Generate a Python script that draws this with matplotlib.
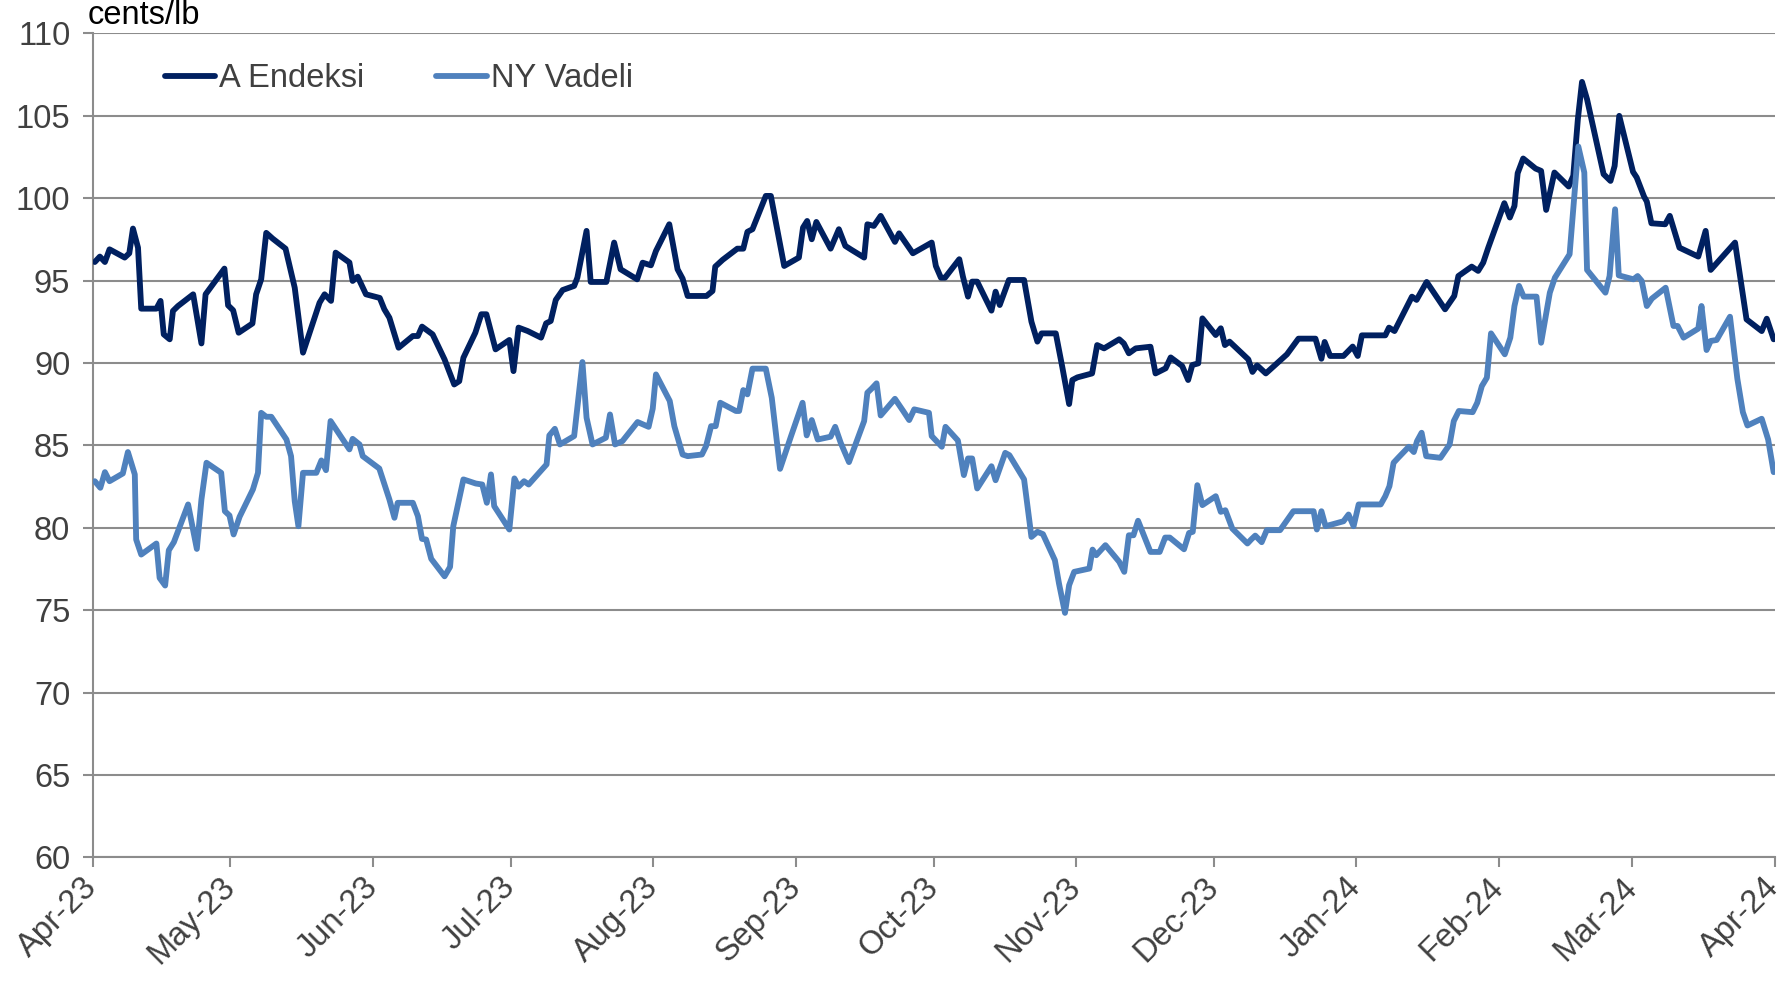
import numpy as np
import pandas as pd
import matplotlib
matplotlib.use("Agg")
import matplotlib.pyplot as plt
import matplotlib.dates as mdates

plt.rcParams['font.family'] = ['Liberation Sans', 'DejaVu Sans']

# gun: 2023-04-01'den itibaren gecen gun sayisi
baslangic = pd.Timestamp('2023-04-01')

a_gun = [0.5, 1.6, 2.7, 3.7, 7.0, 8.0, 8.8, 9.9, 10.6, 13.9, 14.8, 15.5, 16.8, 17.5, 18.6,
         21.9, 23.7, 24.6, 28.7, 29.5, 30.6, 31.8, 34.8, 35.6, 36.7, 37.8, 39.2, 42.0, 44.0,
         45.8, 49.4, 50.5, 51.9, 52.9, 55.9, 56.6, 57.7, 59.5, 62.5, 63.5, 64.6, 66.6, 69.7,
         70.8, 71.7, 74.0, 76.6, 78.7, 79.8, 80.7, 83.3, 84.6, 85.7, 87.7, 90.7, 91.6, 92.7,
         94.7, 97.6, 98.7, 99.7, 100.8, 102.3, 104.8, 105.5, 107.5, 108.4, 111.8, 113.5,
         114.9, 118.5, 119.7, 121.5, 122.6, 125.5, 127.3, 128.4, 129.5, 133.6, 134.9, 135.5,
         137.1, 140.3, 141.6, 142.5, 143.6, 146.5, 147.6, 150.5, 153.7, 154.6, 155.5, 156.5,
         157.5, 160.6, 162.4, 163.8, 165.2, 167.9, 168.6, 170.0, 171.5, 174.6, 175.5, 178.5,
         182.6, 183.5, 184.6, 185.5, 188.6, 189.4, 190.5, 191.4, 192.5, 195.6, 196.5, 197.4,
         199.4, 202.7, 204.3, 205.6, 206.5, 209.6, 211.0, 212.5, 213.2, 214.3, 217.5, 218.6,
         220.1, 223.4, 224.4, 225.5, 227.0, 230.2, 231.3, 233.5, 234.6, 237.1, 238.4, 239.3,
         240.6, 241.5, 244.4, 245.5, 246.4, 247.4, 251.5, 252.4, 253.4, 255.3, 259.9, 262.4,
         266.1, 267.4, 268.1, 269.3, 272.2, 274.2, 275.3, 276.2, 281.3, 282.1, 283.3, 287.1,
         288.1, 290.3, 294.3, 296.3, 297.2, 300.1, 301.5, 302.6, 303.7, 307.2, 308.4, 309.4,
         310.1, 311.3, 314.0, 315.2, 316.3, 318.1, 321.2, 322.2, 323.2, 324.1, 325.2, 328.8,
         330.3, 331.2, 332.2, 335.2, 336.0, 337.6, 338.2, 339.2, 342.2, 343.2, 345.3, 349.4,
         351.0, 352.1, 357.4, 359.9, 363.2, 364.3, 365.8]
a_endeksi = [96.13, 96.46, 96.13, 96.9, 96.4, 96.66, 98.16, 97.0, 93.3, 93.3, 93.77, 91.74,
             91.44, 93.16, 93.46, 94.17, 91.19, 94.17, 95.73, 93.5, 93.2, 91.84, 92.4, 94.17,
             95.08, 97.9, 97.55, 96.94, 94.57, 90.63, 93.66, 94.17, 93.77, 96.7, 96.1, 94.98,
             95.24, 94.17, 93.95, 93.26, 92.75, 90.93, 91.64, 91.64, 92.21, 91.74, 90.22, 88.7,
             88.9, 90.32, 91.84, 92.96, 92.96, 90.83, 91.4, 89.51, 92.15, 91.94, 91.54, 92.41,
             92.55, 93.83, 94.43, 94.68, 95.18, 98.02, 94.92, 94.92, 97.31, 95.69, 95.08, 96.09,
             95.93, 96.8, 98.42, 95.69, 95.12, 94.07, 94.07, 94.37, 95.85, 96.26, 96.94, 96.94,
             97.96, 98.12, 100.14, 100.14, 95.89, 96.4, 98.22, 98.62, 97.51, 98.56, 96.94, 98.12,
             97.11, 96.86, 96.4, 98.42, 98.32, 98.93, 97.35, 97.87, 96.66, 97.31, 95.89, 95.18,
             95.18, 96.3, 95.24, 94.03, 94.94, 94.94, 93.18, 94.33, 93.52, 95.04, 95.04, 92.51,
             91.3, 91.8, 91.8, 89.78, 87.51, 88.97, 89.13, 89.37, 91.09, 90.89, 91.44, 91.19,
             90.59, 90.89, 90.99, 89.37, 89.68, 90.34, 89.82, 88.97, 89.88, 89.98, 92.71, 91.7,
             92.11, 91.09, 91.3, 90.22, 89.46, 89.86, 89.37, 90.53, 91.48, 91.48, 90.26, 91.28,
             90.43, 90.43, 91.0, 90.43, 91.68, 91.68, 92.15, 91.94, 94.03, 93.83, 94.92, 93.26,
             94.07, 95.28, 95.85, 95.59, 96.09, 97.0, 99.7, 98.83, 99.53, 101.52, 102.41, 101.8,
             101.66, 99.29, 101.56, 100.71, 101.36, 104.8, 107.06, 106.0, 101.46, 101.05, 101.96,
             105.0, 101.6, 101.26, 100.1, 99.8, 98.48, 98.42, 98.93, 97.0, 96.46, 98.02, 95.65,
             97.31, 92.65, 91.94, 92.69, 91.44]

ny_gun = [0.5, 1.7, 2.7, 3.7, 6.6, 7.7, 9.2, 9.5, 10.6, 13.9, 14.6, 15.8, 16.6, 17.7, 20.8,
          22.7, 23.7, 24.8, 28.0, 28.8, 29.8, 30.7, 32.0, 34.9, 36.0, 36.7, 37.8, 38.9, 42.2,
          43.2, 44.0, 44.8, 45.8, 48.7, 49.8, 50.8, 51.8, 55.9, 56.6, 58.1, 58.8, 62.4, 64.6,
          65.7, 66.4, 69.7, 70.8, 71.7, 72.6, 73.7, 76.6, 77.8, 78.5, 80.7, 83.4, 84.8, 85.8,
          86.7, 87.4, 90.7, 91.8, 92.7, 93.9, 94.9, 98.8, 99.4, 100.6, 101.7, 104.8, 106.6,
          107.5, 108.8, 111.7, 112.6, 113.7, 115.3, 118.6, 121.0, 121.9, 122.6, 125.6, 126.6,
          128.4, 129.5, 132.6, 133.5, 134.6, 135.6, 136.6, 140.0, 140.7, 141.6, 142.5, 143.6,
          146.5, 147.8, 149.6, 152.0, 154.5, 155.4, 156.5, 157.8, 160.6, 161.6, 162.8, 164.6,
          167.9, 168.6, 169.5, 170.6, 171.5, 174.6, 176.4, 177.7, 178.8, 182.0, 182.6, 184.8,
          185.6, 188.3, 189.6, 190.5, 191.4, 192.5, 195.6, 196.5, 198.6, 199.5, 202.7, 204.3,
          205.6, 206.8, 209.4, 210.3, 211.6, 212.5, 213.6, 216.9, 217.6, 218.4, 220.4, 223.4,
          224.5, 225.5, 226.5, 227.5, 230.2, 232.2, 233.4, 234.4, 237.5, 238.6, 239.4, 240.4,
          241.5, 244.4, 245.5, 246.5, 248.0, 251.3, 252.1, 253.0, 254.4, 255.5, 258.4, 261.3,
          265.7, 266.4, 267.4, 268.3, 272.2, 273.3, 274.4, 275.5, 280.3, 281.3, 282.2, 283.1,
          284.1, 286.4, 287.5, 288.2, 289.2, 290.2, 293.3, 295.3, 296.2, 297.3, 300.3, 301.3,
          302.3, 303.4, 304.3, 307.3, 308.5, 309.4, 310.4, 311.4, 314.2, 315.2, 317.1, 318.2,
          321.4, 323.3, 324.6, 325.2, 329.2, 330.1, 331.3, 332.1, 335.3, 336.2, 337.1, 338.2,
          339.3, 342.3, 344.0, 344.9, 346.2, 349.4, 350.1, 351.2, 352.1, 353.4, 356.3, 357.9,
          359.1, 360.1, 363.2, 364.6, 365.8]
ny_vadeli = [82.83, 82.43, 83.38, 82.83, 83.3, 84.6, 83.24, 79.29, 78.38, 79.05, 76.96, 76.5,
             78.64, 79.13, 81.42, 78.72, 81.72, 83.95, 83.34, 81.01, 80.75, 79.6, 80.67, 82.33,
             83.34, 86.98, 86.74, 86.74, 85.36, 84.35, 81.62, 80.1, 83.34, 83.34, 84.09, 83.5,
             86.48, 84.76, 85.4, 85.06, 84.35, 83.6, 81.72, 80.61, 81.52, 81.52, 80.71, 79.33,
             79.29, 78.12, 77.06, 77.63, 80.1, 82.94, 82.69, 82.63, 81.52, 83.24, 81.32, 79.9,
             83.0, 82.5, 82.83, 82.63, 83.85, 85.61, 86.01, 85.06, 85.57, 90.06, 86.68, 85.06,
             85.47, 86.88, 85.06, 85.26, 86.42, 86.13, 87.23, 89.31, 87.7, 86.17, 84.45, 84.35,
             84.45, 84.96, 86.17, 86.17, 87.59, 87.09, 87.09, 88.36, 88.1, 89.66, 89.66, 87.89,
             83.58, 85.57, 87.59, 85.61, 86.54, 85.36, 85.53, 86.13, 85.16, 83.99, 86.48, 88.2,
             88.44, 88.77, 86.82, 87.83, 87.09, 86.54, 87.19, 86.98, 85.57, 84.92, 86.13, 85.3,
             83.2, 84.21, 84.21, 82.39, 83.74, 82.89, 84.55, 84.41, 82.94, 79.45, 79.76, 79.62,
             78.04, 76.62, 74.84, 76.52, 77.33, 77.53, 78.68, 78.34, 78.95, 77.94, 77.33, 79.55,
             79.55, 80.43, 78.54, 78.54, 79.41, 79.41, 78.7, 79.69, 79.76, 82.59, 81.38, 81.92,
             80.97, 81.07, 79.96, 79.05, 79.29, 79.53, 79.13, 79.86, 79.86, 81.01, 81.01, 79.9,
             81.01, 80.1, 80.4, 80.81, 80.1, 81.42, 81.42, 81.92, 82.53, 83.95, 84.25, 84.92,
             84.6, 85.26, 85.77, 84.35, 84.25, 85.06, 86.48, 87.09, 87.02, 87.59, 88.6, 89.11,
             91.8, 90.53, 91.54, 93.46, 94.68, 94.03, 94.03, 91.23, 94.27, 95.18, 96.6, 103.14,
             101.56, 95.65, 94.27, 95.28, 99.33, 95.32, 95.08, 95.28, 94.98, 93.46, 93.91, 94.57,
             92.25, 92.25, 91.54, 92.09, 93.46, 90.79, 91.34, 91.4, 92.81, 89.05, 87.02, 86.21,
             86.62, 85.36, 83.38]

a_tarih = baslangic + pd.to_timedelta(a_gun, unit='D')
ny_tarih = baslangic + pd.to_timedelta(ny_gun, unit='D')

koyu = '#002060'
acik = '#4F81BD'
gri = '#8C8C8C'
yazi = '#404040'
fs = 23.5

fig = plt.figure(figsize=(17.86, 9.83), dpi=100)
ax = fig.add_axes([0.0518, 0.1277, 0.9418, 0.8383])

ax.plot(a_tarih, a_endeksi, color=koyu, lw=4.2, label='A Endeksi',
        solid_joinstyle='round', solid_capstyle='round', zorder=3)
ax.plot(ny_tarih, ny_vadeli, color=acik, lw=4.2, label='NY Vadeli',
        solid_joinstyle='round', solid_capstyle='round', zorder=3)

ax.set_xlim(baslangic, pd.Timestamp('2024-04-01'))
ax.set_ylim(60, 110)
ax.set_yticks(np.arange(60, 111, 5))
ax.yaxis.grid(True, color=gri, lw=1.5)
ax.set_axisbelow(True)

ax.xaxis.set_major_locator(mdates.MonthLocator())
ax.xaxis.set_major_formatter(mdates.DateFormatter('%b-%y'))

for s in ['top', 'right']:
    ax.spines[s].set_visible(False)
for s in ['left', 'bottom']:
    ax.spines[s].set_color(gri)
    ax.spines[s].set_linewidth(1.5)

ax.tick_params(axis='y', length=7, width=1.5, color=gri, labelsize=fs,
               labelcolor=yazi, pad=9)
ax.tick_params(axis='x', length=7, width=1.5, color=gri, labelsize=fs,
               labelcolor=yazi, pad=11)
for lbl in ax.get_xticklabels():
    lbl.set_rotation(45)
    lbl.set_ha('right')
    lbl.set_va('center')
    lbl.set_rotation_mode('anchor')

fig.text(88 / 1786, 1 - 24 / 983, 'cents/lb', fontsize=fs, color='black',
         ha='left', va='baseline')

ax.legend(loc='center left', bbox_to_anchor=(0.043, 0.945), ncol=2, frameon=False,
          fontsize=fs, labelcolor=yazi, handlelength=1.55, handletextpad=0.12,
          columnspacing=2.2, borderpad=0, borderaxespad=0)

fig.savefig('out.png', dpi=100)
